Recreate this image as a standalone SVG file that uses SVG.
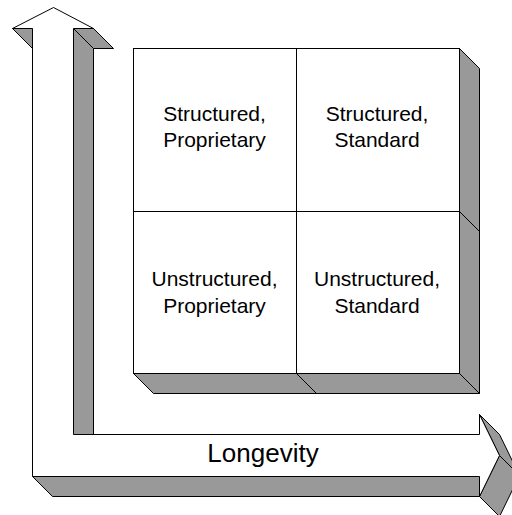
<svg xmlns="http://www.w3.org/2000/svg" width="512" height="515" viewBox="0 0 512 515">
  <style>
    .face { fill: #ffffff; stroke: #000000; stroke-width: 1; stroke-linejoin: miter; }
    .depth { fill: #999999; stroke: #000000; stroke-width: 1; stroke-linejoin: miter; }
    .edge { fill: none; stroke: #000000; stroke-width: 1; }
    .lbl { font-family: "Liberation Sans", Arial, sans-serif; font-size: 21px; fill: #000000; text-anchor: middle; }
    .axis { font-family: "Liberation Sans", Arial, sans-serif; font-size: 26px; fill: #000000; text-anchor: middle; }
  </style>
  <rect width="512" height="515" fill="#ffffff"/>

  <g id="connectors">
    <g id="axis-arrow">
      <polygon class="depth" points="12.5,28.5 32.5,28.5 32.5,48.5"/>
      <polygon class="depth" points="73.5,28.5 93.5,28.5 113.5,48.5 93.5,48.5 93.5,434.5 73.5,434.5"/>
      <line class="edge" x1="73.5" y1="28.5" x2="93.5" y2="48.5"/>
      <polygon class="depth" points="32.5,476.5 479.5,476.5 499.5,496.5 52.5,496.5"/>
      <polygon class="depth" points="479.5,414.5 499.5,455.5 519.5,475.5 499.5,434.5"/>
      <polygon class="depth" points="499.5,455.5 479.5,496.5 499.5,516.5 519.5,475.5"/>
      <path class="face" d="M32.5,28.5 L32.5,476.5 L479.5,476.5 L479.5,496.5 L499.5,455.5 L479.5,414.5 L479.5,434.5 L73.5,434.5 L73.5,28.5 L93.5,28.5 L53.5,7.5 L12.5,28.5 Z"/>
      <text class="axis" x="263" y="462">Longevity</text>
    </g>
  </g>

  <g id="matrix-depth">
    <polygon class="depth" points="459.5,48.5 479.5,68.5 479.5,393.5 459.5,373.5"/>
    <line class="edge" x1="459.5" y1="211.5" x2="479.5" y2="231.5"/>
    <polygon class="depth" points="133.5,373.5 459.5,373.5 479.5,393.5 153.5,393.5"/>
    <line class="edge" x1="296.5" y1="373.5" x2="316.5" y2="393.5"/>
  </g>

  <g id="cell-structured-proprietary">
    <rect class="face" x="133.5" y="48.5" width="163" height="163"/>
    <text class="lbl" x="214.5" y="121">Structured,</text>
    <text class="lbl" x="214.5" y="147">Proprietary</text>
  </g>
  <g id="cell-structured-standard">
    <rect class="face" x="296.5" y="48.5" width="163" height="163"/>
    <text class="lbl" x="377" y="121">Structured,</text>
    <text class="lbl" x="377" y="147">Standard</text>
  </g>
  <g id="cell-unstructured-proprietary">
    <rect class="face" x="133.5" y="211.5" width="163" height="162"/>
    <text class="lbl" x="214.5" y="286">Unstructured,</text>
    <text class="lbl" x="214.5" y="313">Proprietary</text>
  </g>
  <g id="cell-unstructured-standard">
    <rect class="face" x="296.5" y="211.5" width="163" height="162"/>
    <text class="lbl" x="377" y="286">Unstructured,</text>
    <text class="lbl" x="377" y="313">Standard</text>
  </g>
</svg>
